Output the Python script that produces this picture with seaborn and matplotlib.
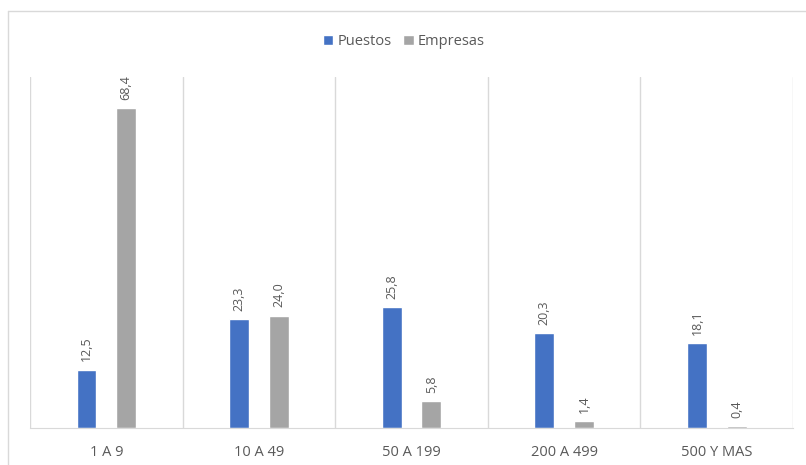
import matplotlib
matplotlib.use("Agg")
import matplotlib.pyplot as plt
import seaborn as sns
import pandas as pd

# Datos
categorias = ["1 A 9", "10 A 49", "50 A 199", "200 A 499", "500 Y MAS"]
puestos = [12.5, 23.3, 25.8, 20.3, 18.1]
empresas = [68.4, 24.0, 5.8, 1.4, 0.4]
series = ["Puestos", "Empresas"]
colores = ["#4472C4", "#A5A5A5"]

df = pd.DataFrame({
    "Tamaño": categorias * 2,
    "Serie": [series[0]] * len(categorias) + [series[1]] * len(categorias),
    "Valor": puestos + empresas,
})

sns.set_style("white")
plt.rcParams["font.family"] = ["Open Sans", "DejaVu Sans"]

fig = plt.figure(figsize=(8.06, 4.65), dpi=100)
ax = fig.add_axes([0.0372, 0.0796, 0.9468, 0.7544])

sns.barplot(data=df, x="Tamaño", y="Valor", hue="Serie", palette=colores,
            saturation=1, width=0.52, gap=0.5, ax=ax, legend=True)

ax.set_ylim(0, 75)
ax.set_xlim(-0.5, len(categorias) - 0.5)
ax.set_xlabel("")
ax.set_ylabel("")
ax.set_yticks([])
for s in ["top", "right", "left"]:
    ax.spines[s].set_visible(False)
ax.spines["bottom"].set_color("#D9D9D9")

# lineas verticales entre categorias
for i in range(len(categorias) + 1):
    ax.axvline(i - 0.5, color="#D9D9D9", lw=1, zorder=0)

ax.tick_params(axis="x", length=0, pad=12, labelsize=10.5, labelcolor="#595959")

# etiquetas de valor
for cont in ax.containers:
    etiquetas = [f"{v:.1f}".replace(".", ",") for v in cont.datavalues]
    ax.bar_label(cont, labels=etiquetas, rotation=90, padding=6,
                 fontsize=9, color="#595959")

ax.legend(loc="upper center", bbox_to_anchor=(0.49, 1.16), ncol=2, frameon=False,
          fontsize=10.5, handlelength=0.7, handleheight=0.7, handletextpad=0.3,
          columnspacing=0.8, labelcolor="#595959")

# borde del area del grafico
fig.add_artist(plt.Line2D([0.01, 1.0], [0.976, 0.976], color="#D9D9D9", lw=1))
fig.add_artist(plt.Line2D([0.01, 0.01], [0.0, 0.976], color="#D9D9D9", lw=1))

fig.savefig("out.png", dpi=100)
